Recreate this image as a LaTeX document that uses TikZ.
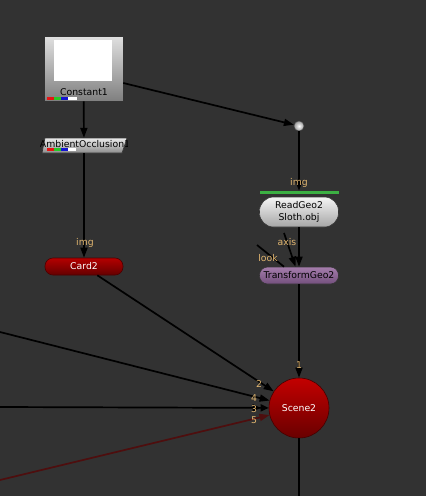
\documentclass[tikz,border=0pt]{standalone}
\usepackage{fontspec}
\setmainfont{DejaVu Sans}
\usetikzlibrary{arrows.meta}
\definecolor{bg}{RGB}{50,50,50}
\definecolor{lbl}{RGB}{225,182,112}
\definecolor{wirered}{RGB}{78,14,14}
\definecolor{barred}{RGB}{230,20,20}
\definecolor{bargreen}{RGB}{40,200,40}
\definecolor{barblue}{RGB}{20,20,210}
\definecolor{readbar}{RGB}{60,176,67}
\begin{document}
\begin{tikzpicture}[x=1pt,y=-1pt,
  every node/.style={font=\fontsize{9.3}{11}\selectfont, inner sep=0pt},
  tip/.style={-{Triangle[length=10pt,width=7pt]}},
  wire/.style={line width=1.7pt, draw=black},
  edge/.style={wire, tip},
  portlbl/.style={text=lbl},
  nodebox/.style={draw=black!80, line width=0.6pt}]
\fill[bg] (0,0) rectangle (426,496);
\useasboundingbox (0,0) rectangle (426,496);

% Constant1
\node[nodebox, minimum width=79pt, minimum height=65pt, top color=black!12, bottom color=black!50] (const) at (83.5,68.5) {};
\fill[white] (54,40) rectangle (112,81);
\node[text=black] (constlbl) at (84,92) {Constant1};
\fill[barred] (47,97) rectangle (54,100);
\fill[bargreen] (54,97) rectangle (61,100);
\fill[barblue] (61,97) rectangle (68,100);
\fill[white] (68,97) rectangle (77,100);

% AmbientOcclusion1
\shade[top color=black!8, bottom color=black!45, draw=black!80, line width=0.6pt]
  (45,138) -- (127,138) -- (122,153) -- (42,153) -- cycle;
\node[minimum width=80pt, minimum height=15pt] (ao) at (84,145.5) {};
\begin{scope}
\clip (40,136) rectangle (127,155);
\node[text=black] (aolbl) at (85,144.5) {AmbientOcclusion1};
\end{scope}
\fill[barred] (47,148) rectangle (54,151);
\fill[bargreen] (54,148) rectangle (61,151);
\fill[barblue] (61,148) rectangle (68,151);
\fill[white] (68,148) rectangle (76,151);

% Card2
\node[draw=black!70!red, line width=0.6pt, rounded corners=8pt, minimum width=78pt, minimum height=17pt,
  top color={rgb,255:red,180;green,0;blue,0}, bottom color={rgb,255:red,100;green,0;blue,0}, text=white] (card) at (84,266.5) {Card2};

% Dot
\node[circle, minimum size=10pt, draw=black!70, line width=0.5pt, inner color=white, outer color=black!40] (dot) at (299,126) {};

% ReadGeo2
\node[fill=readbar, minimum width=79pt, minimum height=3pt] (rbar) at (299,192.5) {};
\node[nodebox, rounded corners=14pt, minimum width=79pt, minimum height=30pt, align=center,
  top color=black!4, bottom color=black!35, text=black] (rg) at (299,212) {ReadGeo2\\[1pt]Sloth.obj};

% TransformGeo2
\node[nodebox, rounded corners=8pt, minimum width=79pt, minimum height=17pt,
  top color={rgb,255:red,165;green,125;blue,172}, bottom color={rgb,255:red,115;green,80;blue,125}, text=black] (tg) at (299,275.5) {TransformGeo2};

% Scene2
\node[circle, minimum size=60pt, draw={rgb,255:red,70;green,0;blue,0}, line width=0.6pt,
  top color={rgb,255:red,195;green,0;blue,0}, bottom color={rgb,255:red,105;green,0;blue,0}, text=white] (sc) at (299,408) {Scene2};

% free ends
\coordinate (in4) at (0,332);
\coordinate (in3) at (0,407);
\coordinate (in5) at (0,480);
\coordinate (bot) at (299,496);
\coordinate (axs) at (284,233);
\coordinate (lk) at (257,245);

% connectors
\draw[edge] (const) -- (ao);
\draw[edge] (ao) -- (card);
\draw[edge] ([yshift=-14.5pt]const.east) -- (dot);
\draw[edge] (dot) -- (rbar);
\draw[edge] (rg) -- (tg);
\draw[edge] (axs) -- ([xshift=-3.5pt]tg.north);
\draw[wire] (lk) -- ([xshift=-15pt]tg.north);
\draw[edge] (tg) -- (sc);
\draw[edge] (card) -- (sc);
\draw[edge] (in4) -- (sc);
\draw[wire, -{Triangle[length=8pt,width=7pt]Triangle[length=8pt,width=7pt]}] (in3) -- (sc);
\draw[line width=1.7pt, draw=wirered, -{Triangle[length=10pt,width=7pt]}] (in5) -- (sc);
\draw[wire] (sc) -- (bot);

% labels
\node[portlbl] (limg1) at (85,243) {img};
\node[portlbl] (limg2) at (299,183) {img};
\node[portlbl] (laxis) at (287,242) {axis};
\node[portlbl] (llook) at (268,258) {look};
\node[portlbl] (l1) at (299,365) {1};
\node[portlbl] (l2) at (259,384) {2};
\node[portlbl] (l4) at (254,398) {4};
\node[portlbl] (l3) at (254,409) {3};
\node[portlbl] (l5) at (254,420) {5};
\end{tikzpicture}
\end{document}
